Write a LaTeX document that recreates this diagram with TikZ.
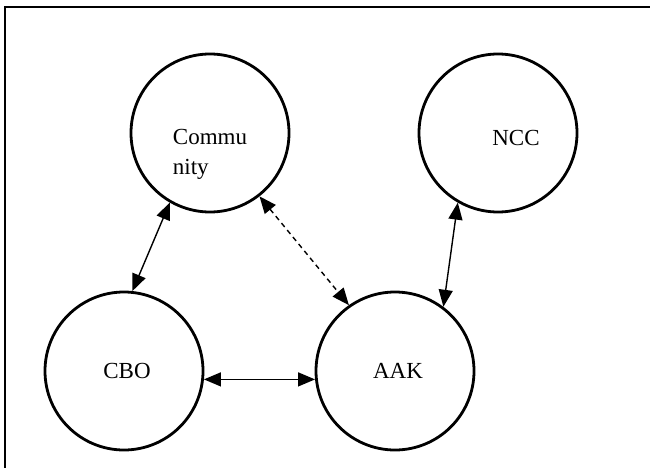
\documentclass[tikz,border=0pt]{standalone}
\usepackage{fontspec}
\setmainfont{Liberation Serif}
\usetikzlibrary{arrows.meta}
\begin{document}
\begin{tikzpicture}[x=1pt,y=-1pt,
  ent/.style={circle,draw,line width=2.8pt,minimum size=158pt,inner sep=0pt},
  lbl/.style={font=\fontsize{23}{30}\selectfont,align=left,inner sep=0pt},
  link/.style={line width=1.4pt,{Triangle[length=17pt,width=14pt]}-{Triangle[length=17pt,width=14pt]}},
  dlink/.style={link,dash pattern=on 5pt off 4pt}]
\useasboundingbox (0,0) rectangle (650,468);
\clip (0,0) rectangle (650,468);
\coordinate (fbl) at (5,480);
\coordinate (ftl) at (5,7);
\coordinate (ftr) at (660,7);
\draw[line width=2pt] (fbl) -- (ftl) -- (ftr);
\node[ent] (com) at (210,133) {};
\node[ent] (ncc) at (498,133) {};
\node[ent] (cbo) at (124,371) {};
\node[ent] (aak) at (395,371) {};
\node[lbl] (comt) at ([xshift=0pt,yshift=-21pt]com.center) {Commu\\nity};
\node[lbl] (ncct) at ([xshift=18pt,yshift=-5pt]ncc.center) {NCC};
\node[lbl] (cbot) at ([xshift=3pt]cbo.center) {CBO};
\node[lbl] (aakt) at ([xshift=3pt]aak.center) {AAK};
\draw[link] (com.240) -- (cbo.84);
\draw[dlink] (com.308) -- (aak.125);
\draw[link] (ncc.240) -- (aak.53);
\draw[link] (cbo.354) -- (aak.186);
\end{tikzpicture}
\end{document}
